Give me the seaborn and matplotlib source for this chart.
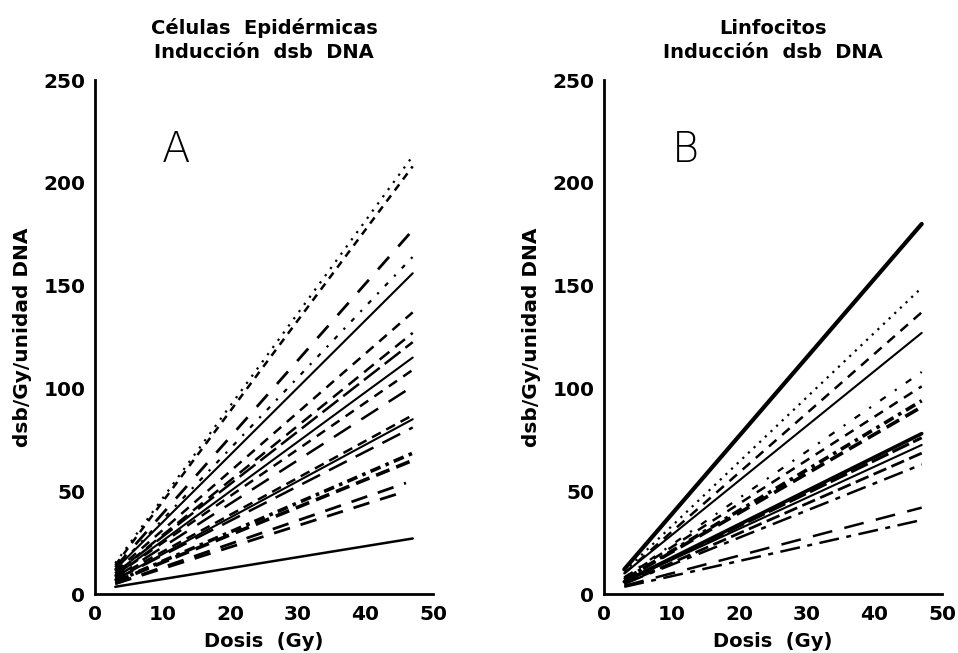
import matplotlib
matplotlib.use("Agg")
import matplotlib.pyplot as plt
import seaborn as sns
import pandas as pd

sns.set_theme(style="white")
plt.rcParams['font.family'] = ['DejaVu Sans']
plt.rcParams['text.color'] = 'black'
plt.rcParams['axes.labelcolor'] = 'black'
plt.rcParams['xtick.color'] = 'black'
plt.rcParams['ytick.color'] = 'black'

dose_start = 3.0
dose_end = 47.0

# Panel A: Células Epidérmicas (value at 3 Gy, value at end dose)
a_start = [15, 14, 13, 12, 12, 11, 10, 10, 9, 9, 8, 8, 7, 7, 6, 6, 5, 5, 3.5]
a_end = [213, 208, 177, 164, 156, 137, 127, 122.5, 115, 109, 101, 87, 85, 81, 68.5, 65, 54, 50, 27]
a_end_dose = [47, 47, 47, 47, 47, 47, 47, 47, 47, 47, 47, 47, 47, 47, 47, 47, 46, 46, 47]

# Panel B: Linfocitos
b_start = [12, 11, 10, 10, 8, 8, 7, 7, 6, 6, 6, 5, 5, 4, 3.5]
b_end = [180, 149, 137, 127, 108, 101, 94, 91, 78, 76, 72.5, 68.5, 63, 42, 36]

x_ticks = [0, 10, 20, 30, 40, 50]
y_ticks = [0, 50, 100, 150, 200, 250]

a_styles = [((0, (1, 3)), 1.6), ((0, (3, 2.5)), 1.8), ((0, (6, 5)), 2.0), ((0, (2, 4, 1, 4)), 1.6),
            ('-', 1.5), ((0, (4, 3)), 1.8), ((0, (5, 3)), 1.8), ((0, (8, 2.5)), 1.8), ('-', 1.5),
            ((0, (4, 3)), 1.8), ((0, (8, 5)), 1.8), ((0, (4, 2.5)), 1.8), ('-', 1.5), ((0, (8, 4)), 1.8),
            ((0, (3, 1.5, 1, 1.5)), 2.6), ((0, (4, 2)), 2.6), ((0, (6, 4)), 2.0), ((0, (6, 4)), 2.0), ('-', 1.8)]
b_styles = [('-', 3.0), ((0, (1, 2.5)), 1.6), ((0, (4, 3)), 1.8), ('-', 1.5), ((0, (3, 5, 1, 5)), 1.6),
            ((0, (4, 3)), 1.8), ((0, (3, 1.5, 1, 1.5)), 2.6), ((0, (4, 2)), 2.6), ('-', 2.6),
            ((0, (6, 1.5)), 2.2), ('-', 1.5), ((0, (5, 2)), 2.0), ((0, (8, 3, 2, 3)), 1.8),
            ((0, (8, 5)), 1.8), ((0, (8, 3, 2, 3)), 1.8)]

fig = plt.figure(figsize=(9.58, 6.53), dpi=100)
axA = fig.add_axes([95/958, 1-594/653, 338/958, 514/653])
axB = fig.add_axes([604/958, 1-594/653, 338/958, 514/653])


def draw(ax, starts, ends, ends_x, styles, title, letter):
    for s, e, ex, (ls, lw) in zip(starts, ends, ends_x, styles):
        df = pd.DataFrame({"Dosis": [dose_start, ex], "dsb": [s, e]})
        sns.lineplot(data=df, x="Dosis", y="dsb", ax=ax, color="black",
                     linestyle=ls, linewidth=lw)
    ax.set_xlim(0, 50)
    ax.set_ylim(0, 250)
    ax.set_xticks(x_ticks)
    ax.set_yticks(y_ticks)
    ax.set_xticklabels([str(t) for t in x_ticks], fontsize=14.5, fontweight='bold')
    ax.set_yticklabels([str(t) for t in y_ticks], fontsize=14.5, fontweight='bold')
    for sp in ['top', 'right']:
        ax.spines[sp].set_visible(False)
    for sp in ['left', 'bottom']:
        ax.spines[sp].set_color('black')
        ax.spines[sp].set_linewidth(2)
    ax.tick_params(axis='x', direction='in', length=6, width=2, pad=8)
    ax.tick_params(axis='y', direction='out', length=6, width=2, pad=1)
    ax.set_xlabel("Dosis  (Gy)", fontsize=14, fontweight='bold', labelpad=6)
    ax.set_ylabel("dsb/Gy/unidad DNA", fontsize=14.5, fontweight='bold', labelpad=8)
    ax.set_title(title, fontsize=14, fontweight='bold', pad=16, linespacing=1.3, color='black')
    ax.text(12, 216, letter, fontsize=30, fontweight='light', ha='center', va='center', color='black')
    ax.set_facecolor('white')


draw(axA, a_start, a_end, a_end_dose, a_styles, "Células  Epidérmicas\nInducción  dsb  DNA", "A")
draw(axB, b_start, b_end, [dose_end] * len(b_end), b_styles, "Linfocitos\nInducción  dsb  DNA", "B")

fig.savefig("out.png", dpi=100, facecolor='white')
